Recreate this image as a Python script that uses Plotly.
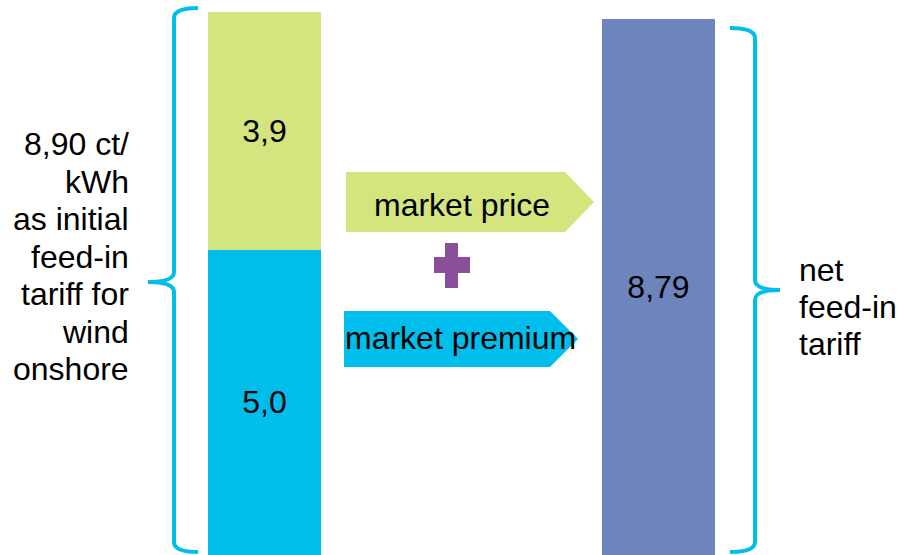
import plotly.graph_objects as go

# Values (ct/kWh)
premium = [5.0]
price = [3.9]
net_tariff = [8.79]

left_label_lines = ["8,90 ct/", "kWh", "as initial", "feed-in", "tariff for", "wind", "onshore"]
right_label_lines = ["net", "feed-in", "tariff"]
arrow_labels = ["market price", "market premium"]

GREEN = "#D4E57E"
CYAN = "#00BEEB"
BLUE = "#6E84BD"
PURPLE = "#8A4F9B"
FONT = "Liberation Sans, Arial, sans-serif"

W, H = 898, 555
X_RANGE = [-0.6713, 1.6079]
Y_RANGE = [0, 9.097]


def dx(px):
    """Horizontal pixel -> x data units."""
    return X_RANGE[0] + px / W * (X_RANGE[1] - X_RANGE[0])


def dy(py):
    """Vertical pixel (from top) -> y data units."""
    return Y_RANGE[1] - py / H * (Y_RANGE[1] - Y_RANGE[0])


bar_w = 0.2868
text_style = dict(size=32, color="black", family=FONT)

fig = go.Figure()
fig.add_trace(go.Bar(x=[0], y=premium, width=bar_w, marker=dict(color=CYAN, line_width=0),
                     texttemplate="%{y:.1f}", textposition="inside", insidetextanchor="middle",
                     textangle=0, textfont=text_style, name="market premium"))
fig.add_trace(go.Bar(x=[0], y=price, width=bar_w, marker=dict(color=GREEN, line_width=0),
                     texttemplate="%{y:.1f}", textposition="inside", insidetextanchor="middle",
                     textangle=0, textfont=text_style, name="market price"))
fig.add_trace(go.Bar(x=[1], y=net_tariff, width=bar_w, marker=dict(color=BLUE, line_width=0),
                     texttemplate="%{y:.2f}", textposition="inside", insidetextanchor="middle",
                     textangle=0, textfont=text_style, name="net feed-in tariff"))


def path(points):
    """Build an SVG path from (cmd, px, py, ...) tuples in pixel space."""
    out = []
    for cmd, *coords in points:
        pairs = []
        for i in range(0, len(coords), 2):
            pairs.append(f"{dx(coords[i]):.5f},{dy(coords[i + 1]):.5f}")
        out.append(cmd + " " + " ".join(pairs))
    return " ".join(out)


shapes = []
# Left curly brace
shapes.append(dict(type="path", xref="x", yref="y", line=dict(color=CYAN, width=4),
                   path=path([("M", 198, 8), ("Q", 174, 8, 174, 18), ("L", 174, 272),
                              ("Q", 174, 282, 148, 282), ("Q", 174, 282, 174, 292),
                              ("L", 174, 542), ("Q", 174, 552, 198, 552)])))
# Right curly brace
shapes.append(dict(type="path", xref="x", yref="y", line=dict(color=CYAN, width=4),
                   path=path([("M", 730, 28), ("Q", 755, 28, 755, 38), ("L", 755, 280),
                              ("Q", 755, 290, 780, 290), ("Q", 755, 290, 755, 300),
                              ("L", 755, 542), ("Q", 755, 552, 730, 552)])))
# Arrow-shaped label boxes
shapes.append(dict(type="path", xref="x", yref="y", fillcolor=GREEN, line=dict(width=0),
                   path=path([("M", 346, 172), ("L", 565, 172), ("L", 594, 202),
                              ("L", 565, 232), ("L", 346, 232)]) + " Z"))
shapes.append(dict(type="path", xref="x", yref="y", fillcolor=CYAN, line=dict(width=0),
                   path=path([("M", 344, 311), ("L", 550, 311), ("L", 578, 339),
                              ("L", 550, 367), ("L", 344, 367)]) + " Z"))
# Plus sign
shapes.append(dict(type="path", xref="x", yref="y", fillcolor=PURPLE, line=dict(width=0),
                   path=path([("M", 445, 243), ("L", 458, 243), ("L", 458, 257), ("L", 470, 257),
                              ("L", 470, 273), ("L", 458, 273), ("L", 458, 288), ("L", 445, 288),
                              ("L", 445, 273), ("L", 434, 273), ("L", 434, 257), ("L", 445, 257)]) + " Z"))

annotations = []
for i, line in enumerate(left_label_lines):
    annotations.append(dict(x=dx(131), y=dy(144 + 37.5 * i), xref="x", yref="y", text=line,
                            showarrow=False, xanchor="right", yanchor="middle",
                            font=text_style))
for i, line in enumerate(right_label_lines):
    annotations.append(dict(x=dx(797), y=dy(270 + 37 * i), xref="x", yref="y", text=line,
                            showarrow=False, xanchor="left", yanchor="middle",
                            font=text_style))
annotations.append(dict(x=dx(462), y=dy(205), xref="x", yref="y", text=arrow_labels[0],
                        showarrow=False, xanchor="center", yanchor="middle", font=text_style))
annotations.append(dict(x=dx(460), y=dy(338), xref="x", yref="y", text=arrow_labels[1],
                        showarrow=False, xanchor="center", yanchor="middle", font=text_style))

fig.update_layout(
    width=W, height=H,
    margin=dict(l=0, r=0, t=0, b=0),
    barmode="stack",
    separators=",.",
    showlegend=False,
    plot_bgcolor="white", paper_bgcolor="white",
    xaxis=dict(range=X_RANGE, visible=False, fixedrange=True),
    yaxis=dict(range=Y_RANGE, visible=False, fixedrange=True),
    shapes=shapes,
    annotations=annotations,
    uniformtext=dict(minsize=32, mode="show"),
)

fig.write_html("out.html", config={"displayModeBar": False})
